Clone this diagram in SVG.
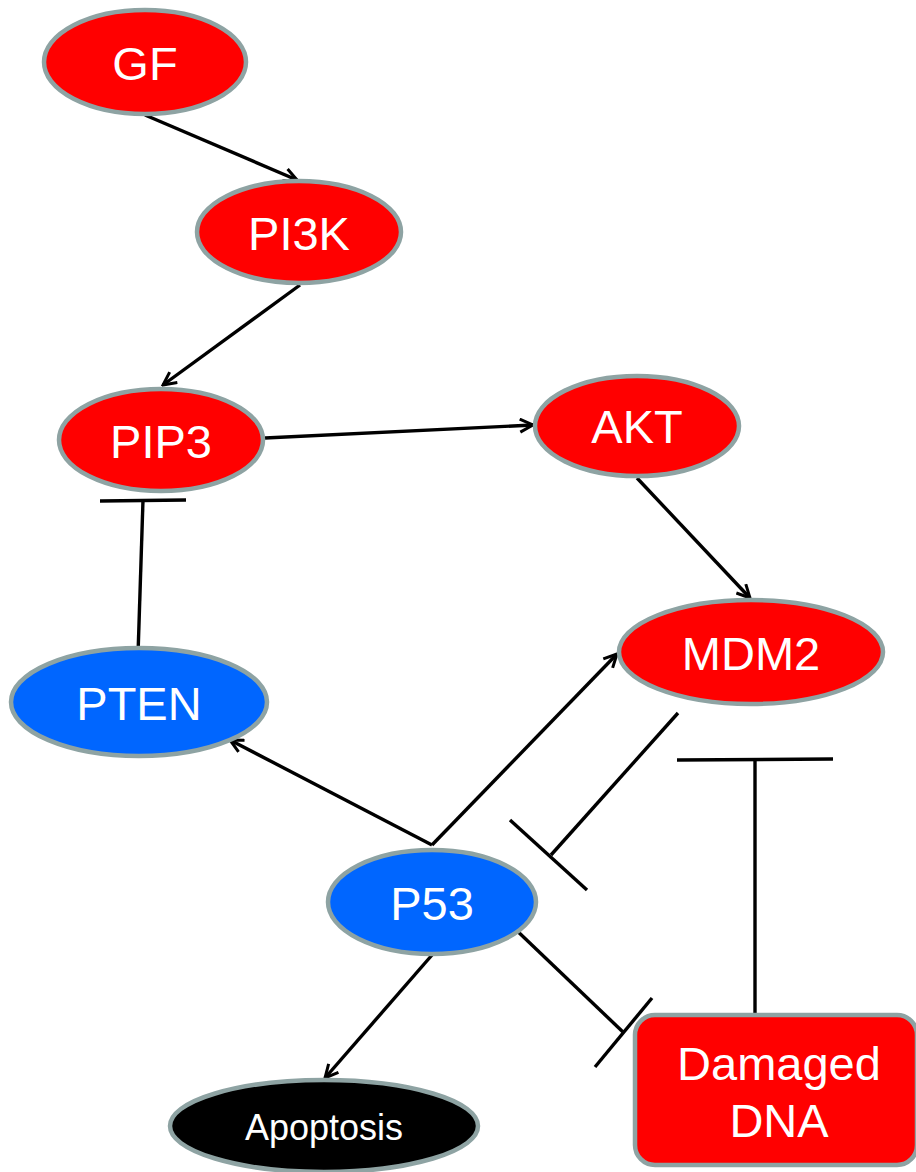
<svg xmlns="http://www.w3.org/2000/svg" width="916" height="1172" viewBox="0 0 916 1172">
<style>
.n{stroke:#8ea3a3;stroke-width:4.5}
.r{fill:#ff0000}
.b{fill:#0066ff}
.k{fill:#000000}
.t{font-family:"Liberation Sans",Arial,sans-serif;font-size:47px;fill:#ffffff;text-anchor:middle}
.c{stroke:#000;stroke-width:3.4;fill:none}
</style>
<defs>
<marker id="arr" viewBox="0 0 16 16" refX="14.5" refY="8" markerWidth="16" markerHeight="16" markerUnits="userSpaceOnUse" orient="auto">
<path d="M1.5,1.5 L14.5,8 L1.5,14.5" fill="none" stroke="#000" stroke-width="3"/>
</marker>
</defs>
<g id="connectors">
<line class="c" x1="145" y1="115" x2="297" y2="180" stroke-width="2" marker-end="url(#arr)"/>
<line class="c" x1="300" y1="285" x2="163" y2="385" marker-end="url(#arr)"/>
<line class="c" x1="265" y1="438" x2="533" y2="425" marker-end="url(#arr)"/>
<line class="c" x1="637" y1="478" x2="750" y2="598" marker-end="url(#arr)"/>
<line class="c" x1="432" y1="845" x2="230" y2="740" marker-end="url(#arr)"/>
<line class="c" x1="432" y1="845" x2="617" y2="654" marker-end="url(#arr)"/>
<line class="c" x1="432" y1="955" x2="325" y2="1078" marker-end="url(#arr)"/>
<line class="c" x1="138" y1="655" x2="143" y2="500"/>
<line class="c" x1="100" y1="501" x2="186" y2="500"/>
<line class="c" x1="678" y1="713" x2="551" y2="855"/>
<line class="c" x1="510" y1="820" x2="587" y2="890"/>
<line class="c" x1="755" y1="1014" x2="755" y2="760"/>
<line class="c" x1="677" y1="760" x2="833" y2="759"/>
<line class="c" x1="512" y1="926" x2="623" y2="1032"/>
<line class="c" x1="595" y1="1067" x2="652" y2="998"/>
</g>
<g id="GF"><ellipse class="n r" cx="145" cy="62" rx="101" ry="52"/><text class="t" x="145" y="80">GF</text></g>
<g id="PI3K"><ellipse class="n r" cx="299" cy="232" rx="102" ry="51"/><text class="t" x="299" y="250">PI3K</text></g>
<g id="PIP3"><ellipse class="n r" cx="161" cy="440" rx="102" ry="51"/><text class="t" x="161" y="458">PIP3</text></g>
<g id="AKT"><ellipse class="n r" cx="637" cy="426" rx="102" ry="50"/><text class="t" x="637" y="443">AKT</text></g>
<g id="MDM2"><ellipse class="n r" cx="751" cy="652" rx="132" ry="52"/><text class="t" x="751" y="670">MDM2</text></g>
<g id="PTEN"><ellipse class="n b" cx="139" cy="702" rx="128" ry="54"/><text class="t" x="139" y="720">PTEN</text></g>
<g id="P53"><ellipse class="n b" cx="432" cy="902" rx="104" ry="52"/><text class="t" x="432" y="920">P53</text></g>
<g id="Apoptosis"><ellipse class="n k" cx="324" cy="1126" rx="154" ry="46"/><text class="t" x="324" y="1140" style="font-size:36px">Apoptosis</text></g>
<g id="DamagedDNA"><rect class="n r" x="635" y="1015" width="282" height="150" rx="20"/><text class="t" x="779" y="1080">Damaged</text><text class="t" x="779" y="1137">DNA</text></g>
</svg>
